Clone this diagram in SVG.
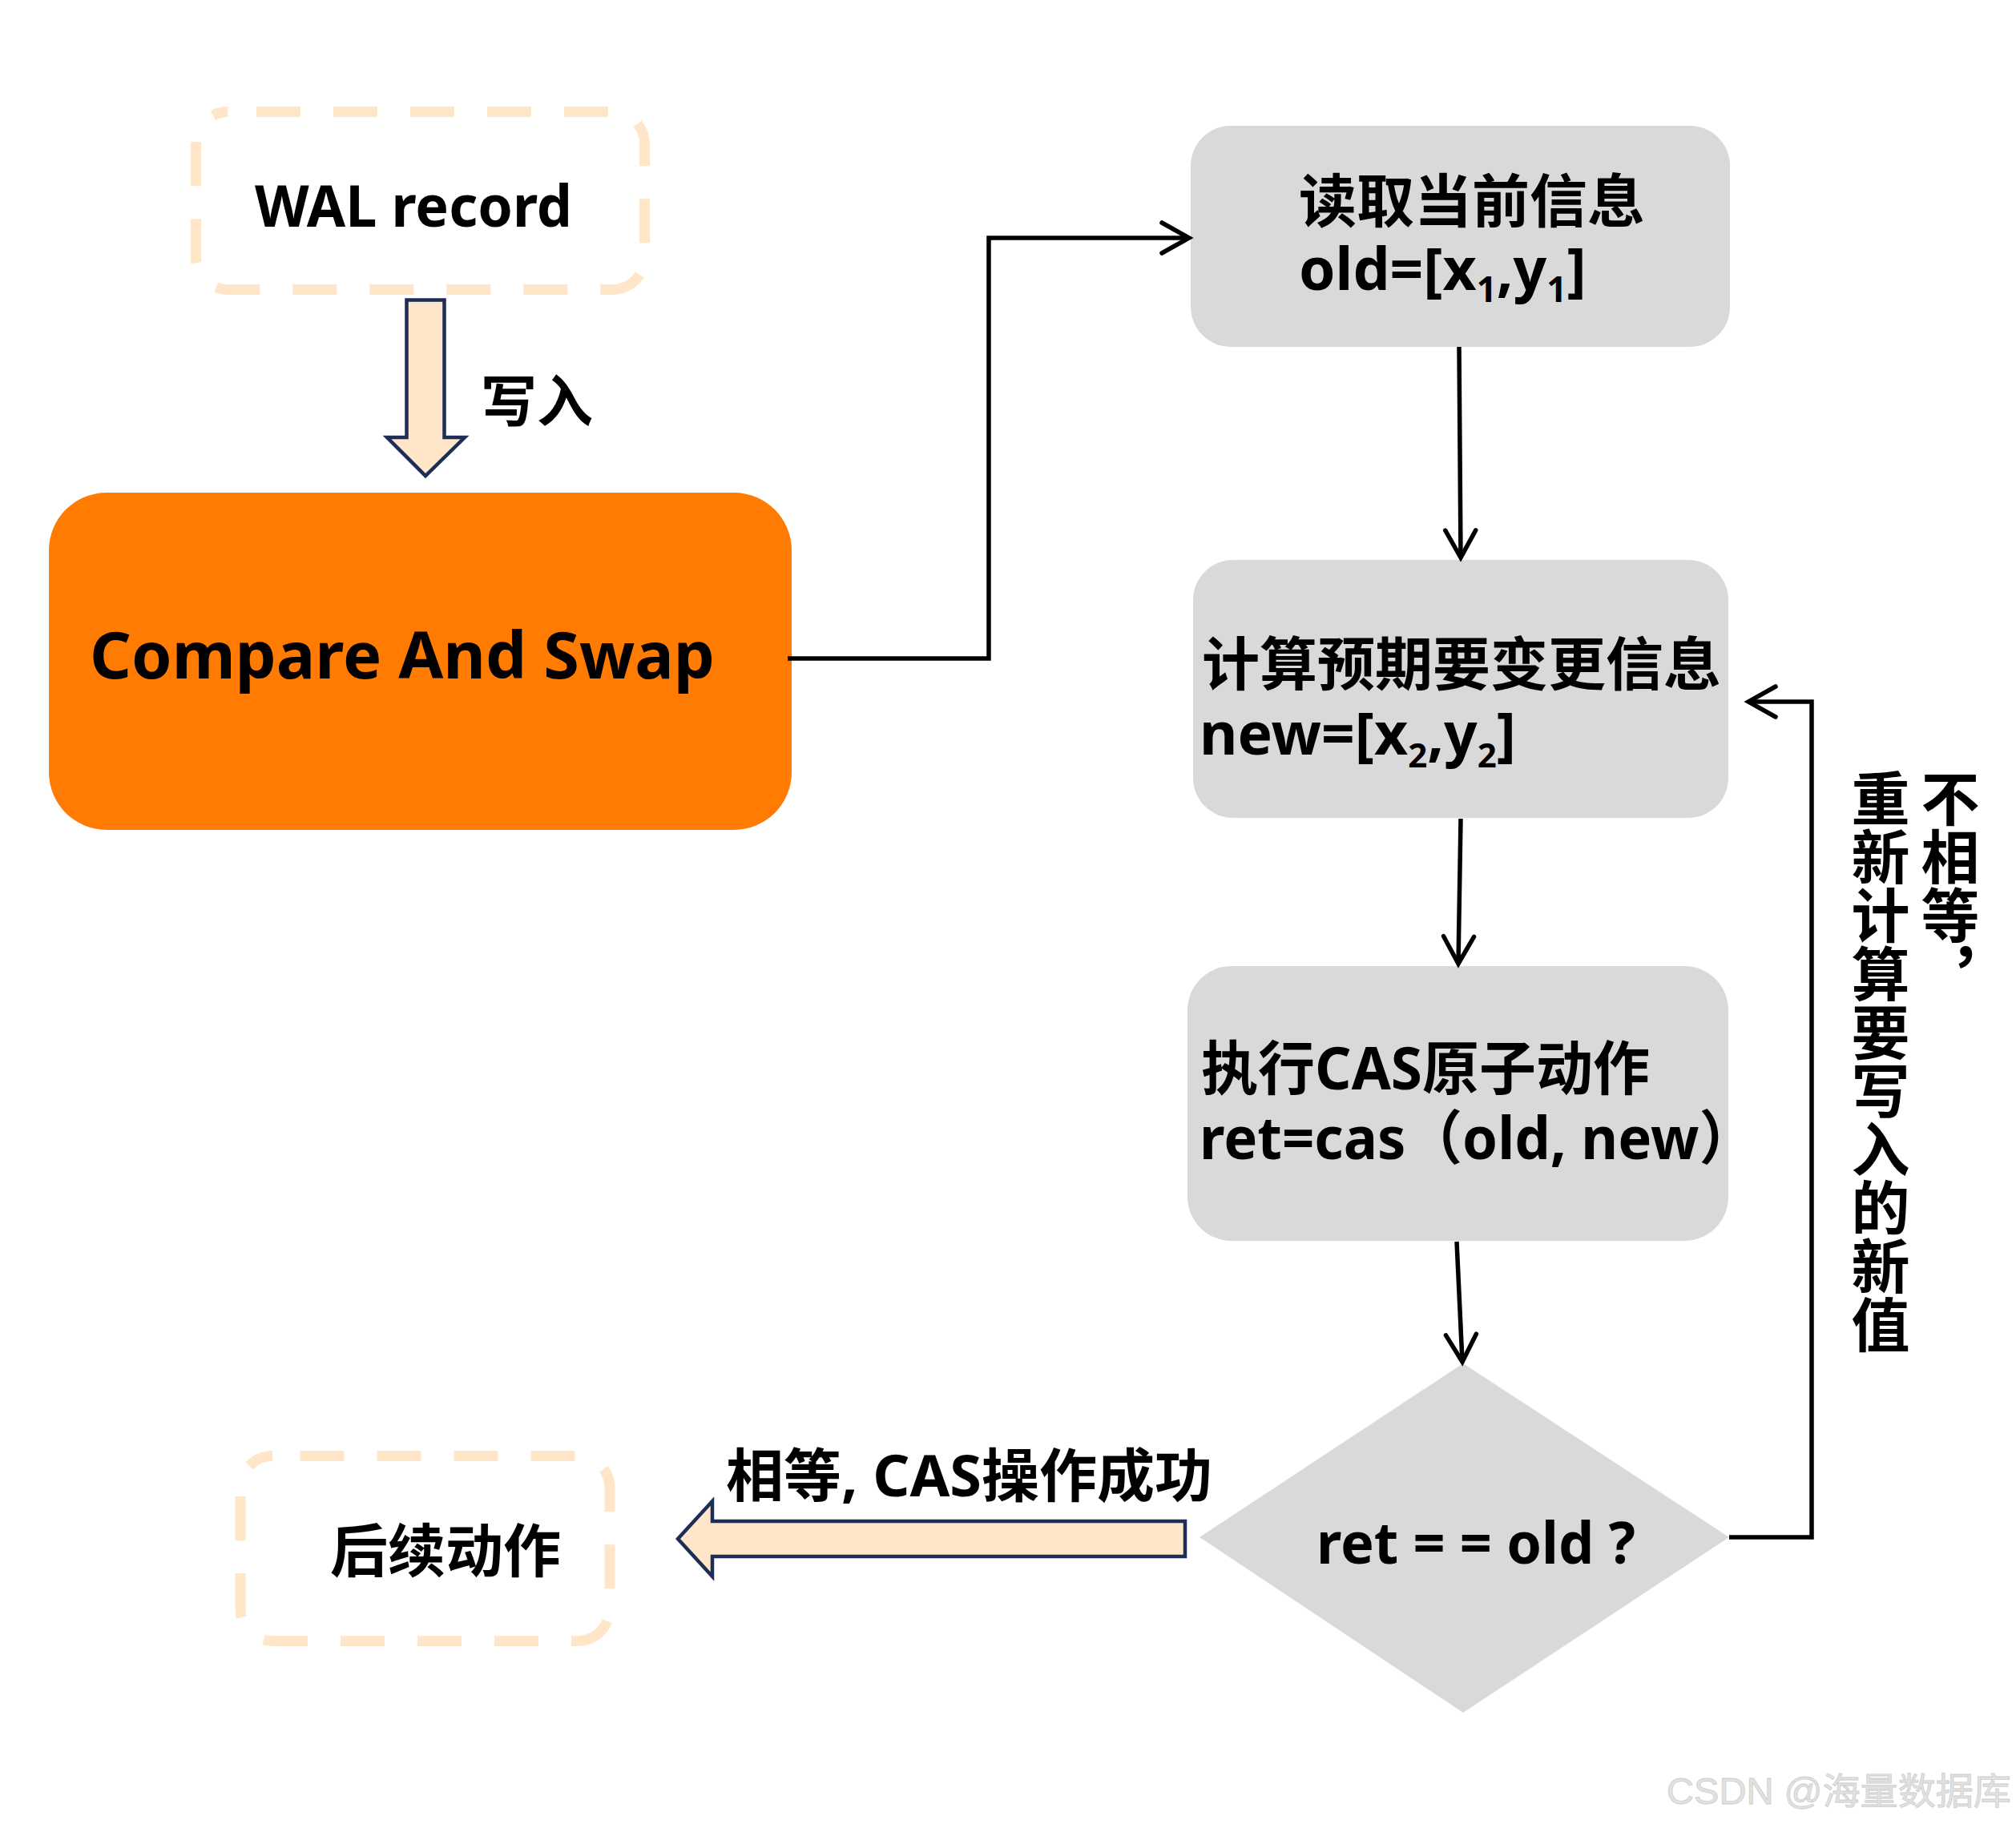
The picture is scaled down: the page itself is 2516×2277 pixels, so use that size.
<svg xmlns="http://www.w3.org/2000/svg" width="2516" height="2277" viewBox="0 0 2516 2277">
<style>
  .t { font-family: "Noto Sans", "Noto Sans CJK SC", sans-serif; font-weight: 700; fill: #000; }
  .cjk { font-family: "Noto Sans CJK SC", sans-serif; font-weight: 700; fill: #000; }
  .dash { fill: none; stroke: #FFE6C8; stroke-width: 13; stroke-dasharray: 55 41; }
  .grey { fill: #D9D9D9; }
  .conn { fill: none; stroke: #000; stroke-width: 5.5; }
  .block { fill: #FFE6C8; stroke: #1E2D55; stroke-width: 4.5; stroke-linejoin: miter; }
</style>
<defs>
  <marker id="ah" viewBox="-42 -26 48 52" refX="0" refY="0" markerWidth="48" markerHeight="52" markerUnits="userSpaceOnUse" orient="auto">
    <path d="M-34,-19 L0,0 L-34,19" fill="none" stroke="#000" stroke-width="5.5" stroke-linecap="round"/>
  </marker>
</defs>
<rect width="2516" height="2277" fill="#FFFFFF"/>

<g id="wal-record">
  <rect class="dash" x="244.5" y="139.5" width="560" height="222" rx="40" stroke-dashoffset="60.5"/>
  <text class="t" x="318" y="283" font-size="72" textLength="396" lengthAdjust="spacingAndGlyphs">WAL record</text>
</g>

<g id="write-arrow">
  <polygon class="block" points="507.5,374.5 554.5,374.5 554.5,546 580,546 531,594 483,546 507.5,546"/>
  <text class="cjk" x="600" y="527" font-size="70">写入</text>
</g>

<g id="cas">
  <rect x="61" y="615" width="927" height="421" rx="72" fill="#FF7B02"/>
  <text class="t" x="112" y="847" font-size="81">Compare And Swap</text>
</g>

<g id="read-current">
  <rect class="grey" x="1486" y="157" width="673" height="276" rx="50"/>
  <text class="t" x="1621" y="277" font-size="72">读取当前信息</text>
  <text class="t" x="1621" y="362" font-size="73">old=[x<tspan font-size="44" dy="15">1</tspan><tspan dy="-15">,y</tspan><tspan font-size="44" dy="15">1</tspan><tspan dy="-15">]</tspan></text>
</g>

<g id="compute-new">
  <rect class="grey" x="1489" y="699" width="668" height="322" rx="50"/>
  <text class="t" x="1500" y="855" font-size="72">计算预期要变更信息</text>
  <text class="t" x="1497" y="942" font-size="73">new=[x<tspan font-size="42" dy="16">2</tspan><tspan dy="-16">,y</tspan><tspan font-size="42" dy="16">2</tspan><tspan dy="-16">]</tspan></text>
</g>

<g id="exec-cas">
  <rect class="grey" x="1482" y="1206" width="675" height="343" rx="55"/>
  <text class="t" x="1499" y="1360" font-size="73" textLength="560" lengthAdjust="spacingAndGlyphs">执行CAS原子动作</text>
  <text class="t" x="1497" y="1447" font-size="73" textLength="694" lengthAdjust="spacingAndGlyphs">ret=cas（old, new）</text>
</g>

<g id="decision">
  <polygon class="grey" points="1826,1702 2158,1919 1826,2138 1497,1919"/>
  <text class="t" x="1643" y="1952" font-size="72" textLength="398" lengthAdjust="spacingAndGlyphs">ret = = old ?</text>
</g>

<g id="follow-up">
  <rect class="dash" x="300" y="1817.5" width="461" height="231" rx="40" stroke-dashoffset="61.5"/>
  <text class="cjk" x="412" y="1962" font-size="72">后续动作</text>
</g>

<g id="success-arrow">
  <polygon class="block" points="1479,1899 889,1899 889,1874 846,1921 889,1968 889,1943 1479,1943"/>
  <text class="t" x="906" y="1868" font-size="72">相等, CAS操作成功</text>
</g>

<g id="retry-label">
  <text class="cjk" x="2434" y="960" font-size="73" writing-mode="vertical-rl">不相等，</text>
  <text class="cjk" x="2347" y="960" font-size="73" writing-mode="vertical-rl">重新计算要写入的新值</text>
</g>

<g id="connectors">
  <polyline class="conn" points="983,822 1234,822 1234,297 1484,297" marker-end="url(#ah)"/>
  <line class="conn" x1="1821" y1="433" x2="1823" y2="696" marker-end="url(#ah)"/>
  <line class="conn" x1="1823" y1="1022" x2="1820" y2="1203" marker-end="url(#ah)"/>
  <line class="conn" x1="1818" y1="1550" x2="1825" y2="1700" marker-end="url(#ah)"/>
  <polyline class="conn" points="2158,1919 2261,1919 2261,876 2182,876" marker-end="url(#ah)"/>
</g>

<text x="2080" y="2252" font-family="'Liberation Sans', 'Noto Sans CJK SC', sans-serif" font-size="46" fill="#E2E2E2" stroke="#CDCDCD" stroke-width="0.8" textLength="430" lengthAdjust="spacingAndGlyphs">CSDN @海量数据库</text>
</svg>
